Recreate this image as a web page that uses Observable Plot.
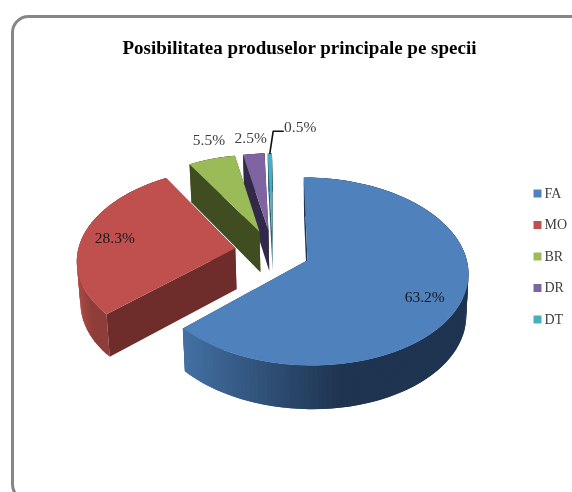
<!DOCTYPE html>
<html>
<head>
<meta charset="utf-8">
<style>
html,body{margin:0;padding:0;background:#fff;width:572px;height:492px;overflow:hidden}
svg{display:block;filter:blur(.35px)}
</style>
<script src="https://cdn.jsdelivr.net/npm/d3@7"></script>
<script src="https://cdn.jsdelivr.net/npm/@observablehq/plot@0.6"></script>
</head>
<body>
<script>
const titleText = "Posibilitatea produselor principale pe specii";
const categories = ["FA", "MO", "BR", "DR", "DT"];
const shares = [63.2, 28.3, 5.5, 2.5, 0.5];
const tickLabels = ["63.2%", "28.3%", "5.5%", "2.5%", "0.5%"];
const topColors = ["#4F81BD", "#C0504D", "#9BBB59", "#8064A2", "#4BACC6"];
const wallColors = ["#1f3550", "#6e2d2b", "#3f4d20", "#32284a", "#2b6272"];
const rimLit = ["#4472a6", "#ad4c48", "#5d7035", "#4d3c61", "#2d6776"];
const rimDark = ["#1e3450", "#8f3d3a", "#3f4d20", "#32284a", "#2b6272"];
// label placement: radius on the disc (1 = rim), angular nudge from the slice middle
const labelRadius = [0.79, 0.79, 1.27, 1.24, 1.41];
const labelTurn = [5, 0, 3, 0, 9.6];

// oblique perspective view of the exploded pie, fitted to the picture
const view = {cx: 272, cy: 251, b: 157.5, a: 90.6, k: 0.117, explode: 0.24,
              depth: 41, depthK: 0.06, vanishX: 320, vanishS: 0.015};
const rad = (deg) => deg * Math.PI / 180;
const project = (u, v) => {
  const den = 1 + view.k * v;
  return [view.cx + view.b * u / den, view.cy - view.a * v / den, v];
};
const drop = ([X, Y, v]) => [X + view.vanishS * (view.vanishX - X), Y + view.depth * (1 - view.depthK * v), v];

const total = d3.sum(shares);
let acc = 0;
const slices = shares.map((s, i) => {
  const start = acc / total * 360;
  acc += s;
  const end = acc / total * 360;
  const mid = (start + end) / 2;
  const u0 = view.explode * Math.sin(rad(mid));
  const v0 = view.explode * Math.cos(rad(mid));
  const at = (deg, r = 1) => project(u0 + r * Math.sin(rad(deg)), v0 + r * Math.cos(rad(deg)));
  return {i, start, end, mid, at, apex: project(u0, v0)};
});

const polys = [];
let pid = 0;
const addPoly = (pts, color) => {
  const id = pid++;
  pts.forEach(([x, y]) => polys.push({id, x, y, color}));
};
// paint back to front: smallest (rear) slices first, the large front slice last
for (const sl of [...slices].sort((p, q) => q.at(q.mid, 0)[2] - p.at(p.mid, 0)[2])) {
  const {i, start, end, at, apex} = sl;
  const n = Math.max(2, Math.ceil((end - start) / 1.5));
  const angles = d3.range(n + 1).map((j) => start + (end - start) * j / n);
  const arc = angles.map((deg) => at(deg));
  // far wall
  addPoly([apex, at(end), drop(at(end)), drop(apex)], wallColors[i]);
  // rim quads with the shading running along x; each overlaps the next so no seams show
  const front = arc.filter((p) => p[2] < sl.at(sl.mid, 0)[2] + 0.2);
  const xs = (front.length ? front : arc).map((p) => p[0]);
  const x0 = d3.min(xs), x1 = d3.max(xs);
  for (let j = n - 1; j >= 0; j--) {
    const p = arc[j], q = arc[Math.min(n, j + 2)];
    const t = Math.max(0, Math.min(1, (p[0] - x0) / (0.58 * (x1 - x0) || 1)));
    addPoly([p, q, drop(q), drop(p)], d3.interpolateRgb(rimLit[i], rimDark[i])(t));
  }
  // near wall
  addPoly([apex, at(start), drop(at(start)), drop(apex)], wallColors[i]);
  // top face
  addPoly([apex, ...arc], topColors[i]);
}

const labels = slices.map((sl) => {
  const [x, y] = sl.at(sl.mid + labelTurn[sl.i], labelRadius[sl.i]);
  return {x, y, text: tickLabels[sl.i], inside: labelRadius[sl.i] < 1};
});
const tiny = slices[4];
const tinyLabel = labels[4];
const [ox, oy] = tiny.at(tiny.mid);
const leader = [
  {x: ox, y: oy},
  {x: tinyLabel.x - 27, y: tinyLabel.y + 4},
  {x: tinyLabel.x - 17, y: tinyLabel.y + 4}
];
const legend = categories.map((name, i) => ({name, color: topColors[i], row: i}));
const legendY = (d) => 193 + d.row * 31.5;

const serif = "'Liberation Serif', 'Times New Roman', serif";
const chart = Plot.plot({
  width: 572, height: 492,
  margin: 0,
  x: {domain: [0, 572], range: [0, 572], axis: null},
  y: {domain: [0, 492], range: [0, 492], axis: null},
  color: {type: "identity"},
  style: {background: "transparent", overflow: "hidden"},
  marks: [
    Plot.frame({stroke: "#868686", strokeWidth: 3, rx: 16, insetLeft: 12, insetTop: 16, insetRight: -30, insetBottom: -8}),
    Plot.line(polys, {x: "x", y: "y", z: "id", fill: "color", stroke: "none", curve: "linear"}),
    Plot.line(leader, {x: "x", y: "y", stroke: "#111", strokeWidth: 1.6, curve: "linear"}),
    Plot.text(labels, {x: "x", y: "y", text: "text", fontSize: 15.5, fontFamily: serif,
      fill: (d) => d.inside ? "#1a1a1a" : "#404040"}),
    Plot.text([titleText], {x: () => 299, y: () => 47, text: (d) => d, fontSize: 19, fontWeight: "bold", fontFamily: serif, fill: "#000"}),
    Plot.dot(legend, {x: () => 537, y: legendY, fill: "color", symbol: "square", r: 4.5}),
    Plot.text(legend, {x: () => 544, y: legendY, text: "name", textAnchor: "start", fontSize: 14, fontFamily: serif, fill: "#404040"})
  ]
});
document.body.appendChild(chart);
</script>
</body>
</html>
